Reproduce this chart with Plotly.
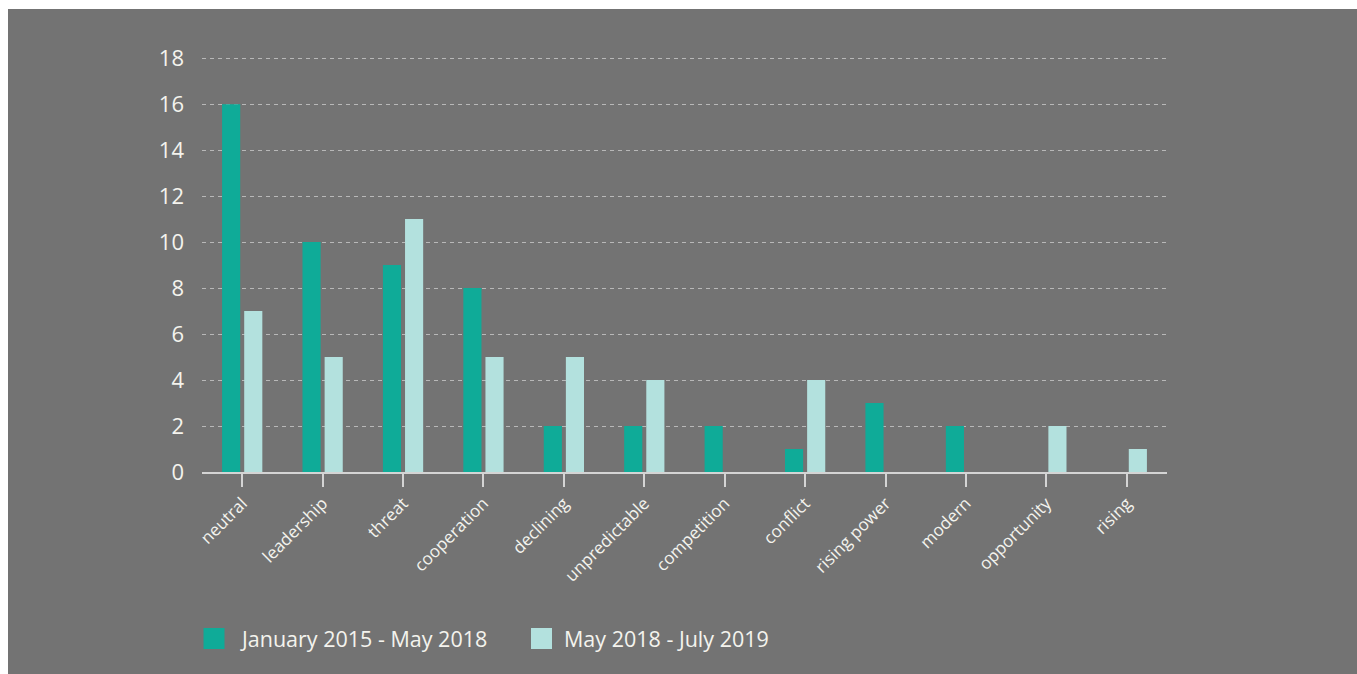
import plotly.graph_objects as go

# Word frequencies per period
categories = ["neutral", "leadership", "threat", "cooperation", "declining",
              "unpredictable", "competition", "conflict", "rising power",
              "modern", "opportunity", "rising"]
period_1 = [16, 10, 9, 8, 2, 2, 2, 1, 3, 2, 0, 0]
period_2 = [7, 5, 11, 5, 5, 4, 0, 4, 0, 0, 2, 1]
series_names = ["January 2015 - May 2018", "May 2018 - July 2019"]
y_ticks = [0, 2, 4, 6, 8, 10, 12, 14, 16, 18]

W, H = 1357, 674
L, R, T, B = 202, 190, 57, 202
PW, PH = W - L - R, H - T - B

DARK = "#0fab98"
LIGHT = "#b3e1de"
BG = "#737373"
TEXT = "#f4f3ee"
FONT = "Open Sans"


def px_x(x):
    return (x - L) / PW


def px_y(y):
    return (H - B - y) / PH


fig = go.Figure()
fig.add_bar(x=categories, y=period_1, name=series_names[0],
            marker=dict(color=DARK, line=dict(width=0)), showlegend=False)
fig.add_bar(x=categories, y=period_2, name=series_names[1],
            marker=dict(color=LIGHT, line=dict(width=0)), showlegend=False)

shapes = [
    # grey panel inset from the page edge
    dict(type="rect", xref="paper", yref="paper", layer="below",
         x0=px_x(8), x1=px_x(W + 5), y0=px_y(H + 5), y1=px_y(9),
         fillcolor=BG, line=dict(width=0)),
]
annotations = []

# legend swatches and labels
legend_items = [(203.5, 224.5, 238, DARK), (531, 552, 562, LIGHT)]
for name, (sx0, sx1, tx, col) in zip(series_names, legend_items):
    shapes.append(dict(type="rect", xref="paper", yref="paper",
                       x0=px_x(sx0), x1=px_x(sx1), y0=px_y(649), y1=px_y(628),
                       fillcolor=col, line=dict(width=0)))
    annotations.append(dict(xref="paper", yref="paper", x=px_x(tx), y=px_y(638.5),
                            xanchor="left", yanchor="middle", showarrow=False,
                            text=name, font=dict(family=FONT, size=21.5, color=TEXT)))

fig.update_layout(
    width=W, height=H,
    margin=dict(l=L, r=R, t=T, b=B, pad=0),
    paper_bgcolor="white",
    plot_bgcolor=BG,
    barmode="group",
    bargap=0.45,
    bargroupgap=0.18,
    shapes=shapes,
    annotations=annotations,
    font=dict(family=FONT, color=TEXT),
)

fig.update_xaxes(
    showgrid=False,
    showline=True, linecolor="#d4d4d4", linewidth=1.5,
    ticks="outside", ticklen=13, tickwidth=1.5, tickcolor="#d4d4d4",
    tickangle=-45,
    tickfont=dict(family=FONT, size=17, color=TEXT),
)
fig.update_yaxes(
    range=[0, 18.05],
    tickvals=y_ticks,
    showgrid=True, gridcolor="#b8b8b8", gridwidth=1, griddash="4px,4px",
    zeroline=False, showline=False, ticks="",
    ticklabelstandoff=17,
    tickfont=dict(family=FONT, size=22, color=TEXT),
)

fig.write_html("out.html")
